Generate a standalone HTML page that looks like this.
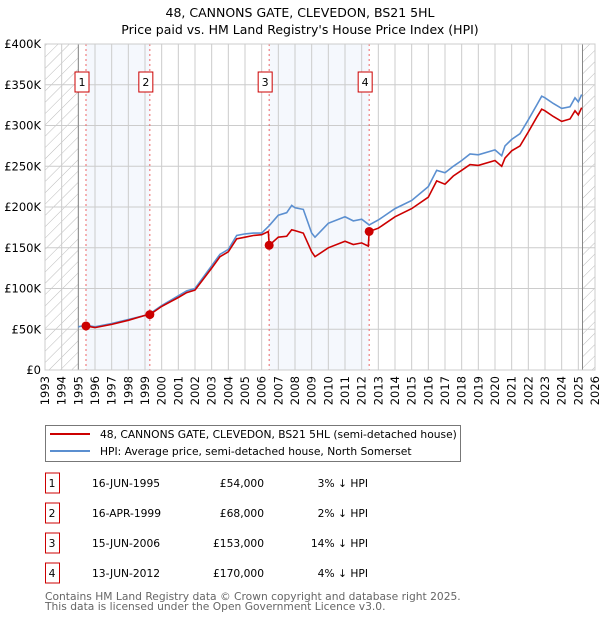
<!DOCTYPE html>
<html><head><meta charset="utf-8"><style>
body{margin:0;background:#fff;font-family:"DejaVu Sans","Liberation Sans",sans-serif;}
svg text{font-family:"DejaVu Sans","Liberation Sans",sans-serif;}
</style></head><body>
<svg id="chart" width="600" height="620" xmlns="http://www.w3.org/2000/svg">
<defs><pattern id="hatch" width="8" height="8" patternUnits="userSpaceOnUse" patternTransform="rotate(45)"><line x1="0" y1="0" x2="0" y2="8" stroke="#bbb" stroke-width="1"/></pattern></defs>
<text x="300" y="17" text-anchor="middle" font-size="12.5">48, CANNONS GATE, CLEVEDON, BS21 5HL</text>
<text x="300" y="34" text-anchor="middle" font-size="12.5">Price paid vs. HM Land Registry's House Price Index (HPI)</text>
<g id="plot"></g>
<g>
<rect x="45.5" y="425.5" width="415" height="36" fill="#fff" stroke="#777"/>
<line x1="50" y1="434" x2="90" y2="434" stroke="#cc0000" stroke-width="2"/>
<text x="100" y="438" font-size="10.7">48, CANNONS GATE, CLEVEDON, BS21 5HL (semi-detached house)</text>
<line x1="50" y1="451" x2="90" y2="451" stroke="#5b8fd0" stroke-width="2"/>
<text x="100" y="455" font-size="10.7">HPI: Average price, semi-detached house, North Somerset</text>
</g>
<g id="table" font-size="10.7"></g>
<text x="45" y="600" font-size="10.7" fill="#666">Contains HM Land Registry data © Crown copyright and database right 2025.</text>
<text x="45" y="610" font-size="10.7" fill="#666">This data is licensed under the Open Government Licence v3.0.</text>
</svg>
<script>
const hpiDates=[1995.0,1995.46,1996,1997,1998,1999,1999.29,2000,2001,2001.5,2002,2003,2003.5,2004,2004.5,2005,2005.5,2006,2006.45,2007,2007.5,2007.8,2008,2008.5,2009,2009.2,2010,2011,2011.5,2012,2012.45,2013,2014,2015,2016,2016.5,2017,2017.5,2018,2018.5,2019,2020,2020.4,2020.6,2021,2021.5,2022,2022.5,2022.8,2023,2023.5,2024,2024.5,2024.8,2025,2025.2];
const hpiValues=[53,55,53,57,62,67,69,79,91,97,100,128,142,148,165,167,168,168,177,190,193,202,199,197,168,163,180,188,183,185,178,184,198,208,225,245,242,250,257,265,264,270,263,275,283,290,307,325,336,334,327,321,323,334,329,338];
const priceDates=[1995.46,1996,1997,1998,1999,1999.29,2000,2001,2001.5,2002,2003,2003.5,2004,2004.5,2005,2005.5,2006,2006.4,2006.45,2007,2007.5,2007.8,2008,2008.5,2009,2009.2,2010,2011,2011.5,2012,2012.4,2012.45,2013,2014,2015,2016,2016.5,2017,2017.5,2018,2018.5,2019,2020,2020.4,2020.6,2021,2021.5,2022,2022.5,2022.8,2023,2023.5,2024,2024.5,2024.8,2025,2025.2];
const priceValues=[54,52,56,61,67,68,78,89,95,98,125,139,145,161,163,165,166,170,153,163,164,172,171,168,145,139,150,158,154,156,152,170,174,188,198,212,232,228,238,245,252,251,257,250,260,269,275,292,310,320,318,311,305,308,318,313,322];
const saleDates=[1995.46,1999.29,2006.45,2012.45];
const salePrices=[54,68,153,170];
const saleLabels=["1","2","3","4"];
const saleDateText=["16-JUN-1995","16-APR-1999","15-JUN-2006","13-JUN-2012"];
const salePriceText=["£54,000","£68,000","£153,000","£170,000"];
const saleDiffText=["3% ↓ HPI","2% ↓ HPI","14% ↓ HPI","4% ↓ HPI"];
const yTicks=[0,50,100,150,200,250,300,350,400];
const yTickLabels=["£0","£50K","£100K","£150K","£200K","£250K","£300K","£350K","£400K"];
const xYears=[];for(let y=1993;y<=2026;y++)xYears.push(y);

const NS="http://www.w3.org/2000/svg";
const L=45,R=595,T=44,B=370,X0=1993,X1=2026,YMAX=400;
const sx=v=>L+(v-X0)/(X1-X0)*(R-L);
const sy=v=>B-v/YMAX*(B-T);
const plot=document.getElementById('plot');
function mk(tag,attrs,parent){const e=document.createElementNS(NS,tag);for(const k in attrs)e.setAttribute(k,attrs[k]);(parent||plot).appendChild(e);return e;}

for(let i=0;i<saleDates.length;i+=2){
 const r=mk('rect',{x:sx(saleDates[i]),y:T,width:sx(saleDates[i+1])-sx(saleDates[i]),height:B-T,fill:'#eef3fc',opacity:0.6});
 
 
}
const h1=mk('rect',{x:sx(1993),y:T,width:sx(1995)-sx(1993),height:B-T,fill:'url(#hatch)'});


const h2=mk('rect',{x:sx(2025.25),y:T,width:sx(2026)-sx(2025.25),height:B-T,fill:'url(#hatch)'});


xYears.forEach(y=>{const g=mk('line',{x1:sx(y),x2:sx(y),y1:T,y2:B,stroke:'#ccc'});
 
 
 const t=mk('text',{x:0,y:0,'font-size':11.5,'text-anchor':'end',transform:`translate(${sx(y)+4},${B+6}) rotate(-90)`});t.textContent=y;
 
 
});
yTicks.forEach((v,i)=>{const g=mk('line',{x1:L,x2:R,y1:sy(v),y2:sy(v),stroke:'#ccc'});
 
 
 const t=mk('text',{x:L-4,y:sy(v)+4,'font-size':11.5,'text-anchor':'end'});t.textContent=yTickLabels[i];
 
 
});
[1995,2025.25].forEach(y=>{const l=mk('line',{x1:sx(y),x2:sx(y),y1:T,y2:B,stroke:'#888'});
 
 });
saleDates.forEach((d,i)=>{const l=mk('line',{x1:sx(d),x2:sx(d),y1:T,y2:B,stroke:'#e66','stroke-dasharray':'2,3'});
 
 
 const r=mk('rect',{x:sx(d)-11,y:72,width:14,height:20,fill:'#fff',stroke:'#cc0000'});
 
 
 const t=mk('text',{x:sx(d)-4,y:86,'font-size':11,'text-anchor':'middle'});t.textContent=saleLabels[i];
 
 
});
function path(xs,ys,color,name){const d=xs.map((x,i)=>(i?'L':'M')+sx(x).toFixed(1)+','+sy(ys[i]).toFixed(1)).join('');
 const p=mk('path',{d:d,fill:'none',stroke:color,'stroke-width':1.6});
 
 }
path(hpiDates,hpiValues,'#5b8fd0','hpi-line');
path(priceDates,priceValues,'#cc0000','price-paid-line');
saleDates.forEach((d,i)=>{const c=mk('circle',{cx:sx(d),cy:sy(salePrices[i]),r:4.5,fill:'#cc0000'});
 
 });
const frame=mk('rect',{x:L,y:T,width:R-L,height:B-T,fill:'none',stroke:'#ccc'});


const tbl=document.getElementById('table');
saleLabels.forEach((s,i)=>{const y=483+30*i;
 const r=mk('rect',{x:45.5,y:y-10,width:14,height:20,fill:'#fff',stroke:'#cc0000'},tbl);
 
 
 const cells=[[52,s,'middle'],[92,saleDateText[i],'start'],[264,salePriceText[i],'end'],[368,saleDiffText[i],'end']];
 cells.forEach(c=>{const t=mk('text',{x:c[0],y:y+4,'text-anchor':c[2]},tbl);t.textContent=c[1];
  
  });
});
</script>
</body></html>
